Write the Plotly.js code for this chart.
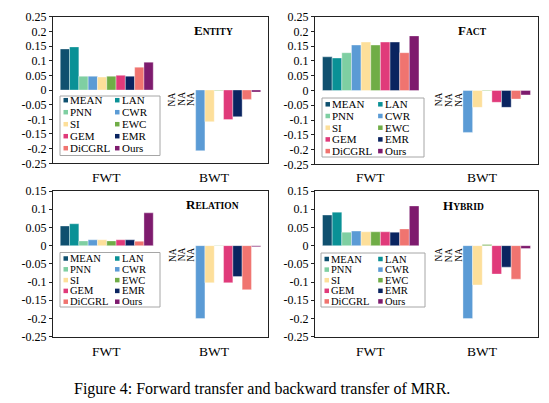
<!DOCTYPE html>
<html>
<head>
<meta charset="utf-8">
<script src="https://cdn.plot.ly/plotly-3.0.1.min.js"></script>
<style>
  body { margin: 0; background: #fff; }
  #chart { width: 549px; height: 403px; }
</style>
</head>
<body>
<div id="chart"></div>
<script>
// methods and their colours
var methods = ['MEAN', 'LAN', 'PNN', 'CWR', 'SI', 'EWC', 'GEM', 'EMR', 'DiCGRL', 'Ours'];
var colors = ['#0f506f', '#0a9196', '#7fcfa2', '#5b9bd5', '#fddf9a', '#70ad47', '#e03a7a', '#0a2460', '#f07470', '#7e1b6e'];
var metrics = ['FWT', 'BWT'];

// values (null = NA)
var entityFWT   = [0.140, 0.147, 0.047, 0.047, 0.044, 0.047, 0.050, 0.047, 0.078, 0.095];
var entityBWT   = [null, null, null, -0.207, -0.108, -0.002, -0.101, -0.091, -0.032, -0.007];
var factFWT     = [0.114, 0.110, 0.128, 0.154, 0.164, 0.154, 0.164, 0.164, 0.128, 0.185];
var factBWT     = [null, null, null, -0.142, -0.057, 0.002, -0.040, -0.057, -0.029, -0.015];
var relationFWT = [0.054, 0.060, 0.013, 0.016, 0.016, 0.013, 0.016, 0.016, 0.012, 0.090];
var relationBWT = [null, null, null, -0.200, -0.102, -0.001, -0.102, -0.085, -0.121, -0.003];
var hybridFWT   = [0.084, 0.092, 0.037, 0.040, 0.038, 0.038, 0.038, 0.037, 0.046, 0.109];
var hybridBWT   = [null, null, null, -0.200, -0.108, 0.003, -0.078, -0.059, -0.092, -0.008];

var topTicks = [0.25, 0.2, 0.15, 0.1, 0.05, 0, -0.05, -0.1, -0.15, -0.2, -0.25];
var topTickText = ['0.25', '0.2', '0.15', '0.1', '0.05', '0', '-0.05', '-0.1', '-0.15', '-0.2', '-0.25'];
var botTicks = [0.15, 0.1, 0.05, 0, -0.05, -0.1, -0.15, -0.2, -0.25];
var botTickText = ['0.15', '0.1', '0.05', '0', '-0.05', '-0.1', '-0.15', '-0.2', '-0.25'];

var W = 549, H = 403;
function px(x) { return x / W; }
function py(y) { return 1 - y / H; }

// panel placement in pixels
var panels = [
  {head: 'E', tail: 'NTITY', fwt: entityFWT, bwt: entityBWT, ticks: topTicks, tickText: topTickText,
   box: [53, 16.7, 268, 163.3], title: [213, 30], catY: 177, legend: [60, 96, 160, 155.5], row0: 100.2, rowStep: 12},
  {head: 'F', tail: 'ACT', fwt: factFWT, bwt: factBWT, ticks: topTicks, tickText: topTickText,
   box: [315, 16.7, 538, 164.3], title: [472, 31], catY: 177, legend: [322, 98, 424, 157], row0: 104.3, rowStep: 11.7},
  {head: 'R', tail: 'ELATION', fwt: relationFWT, bwt: relationBWT, ticks: botTicks, tickText: botTickText,
   box: [53, 191, 268, 336.7], title: [212, 204], catY: 351.5, legend: [60, 252.5, 160, 307], row0: 258.5, rowStep: 10.8},
  {head: 'H', tail: 'YBRID', fwt: hybridFWT, bwt: hybridBWT, ticks: botTicks, tickText: botTickText,
   box: [315, 191, 538, 336.7], title: [463, 205], catY: 351.5, legend: [321, 253, 425, 307], row0: 259, rowStep: 10.6}
];

var bargap = 0.135;
var serif = 'Liberation Serif, Times New Roman, serif';
var traces = [], annotations = [], shapes = [];
var layout = {
  width: W, height: H,
  margin: {l: 0, r: 0, t: 0, b: 0},
  paper_bgcolor: '#fff', plot_bgcolor: '#fff',
  barmode: 'group', bargap: bargap, bargroupgap: 0,
  showlegend: false,
  font: {family: serif, color: '#000'}
};

panels.forEach(function (p, k) {
  var n = k === 0 ? '' : String(k + 1);
  var xa = 'x' + n, ya = 'y' + n;
  var lw = p.legend[2] - p.legend[0];

  // legend frame first so the swatches sit on top of it
  shapes.push({
    type: 'rect', xref: 'paper', yref: 'paper',
    x0: px(p.legend[0]), x1: px(p.legend[2]), y0: py(p.legend[3]), y1: py(p.legend[1]),
    fillcolor: '#fff', line: {color: '#a6a6a6', width: 1}, layer: 'above'
  });

  methods.forEach(function (m, i) {
    traces.push({
      type: 'bar', name: m, x: metrics, y: [p.fwt[i], p.bwt[i]],
      xaxis: xa, yaxis: ya,
      marker: {color: colors[i], line: {color: 'rgba(255,255,255,0.6)', width: 0.6}},
      hoverinfo: 'name+y'
    });
    // NA labels where a method has no value
    if (p.bwt[i] === null) {
      var w = (1 - bargap) / methods.length;
      annotations.push({
        xref: xa, yref: ya, x: 1 - (1 - bargap) / 2 + (i + 0.5) * w, y: 0,
        text: 'NA', textangle: -90, showarrow: false,
        xanchor: 'center', yanchor: 'top',
        font: {family: serif, size: 9.5, color: '#000'}
      });
    }
    // hand-made legend, two columns
    var col = i % 2, row = Math.floor(i / 2);
    var lx = p.legend[0] + (col === 0 ? 3.5 : lw * 0.55);
    var ly = p.row0 + row * p.rowStep;
    shapes.push({
      type: 'rect', xref: 'paper', yref: 'paper',
      x0: px(lx), x1: px(lx + 4.5), y0: py(ly + 2.25), y1: py(ly - 2.25),
      fillcolor: colors[i], line: {width: 0}, layer: 'above'
    });
    annotations.push({
      xref: 'paper', yref: 'paper', x: px(lx + 4.5), y: py(ly),
      xanchor: 'left', yanchor: 'middle', showarrow: false, text: m,
      font: {family: serif, size: k < 2 ? 11 : 10.5, color: '#000'}
    });
  });

  annotations.push({
    xref: 'paper', yref: 'paper', x: px(p.title[0]), y: py(p.title[1]),
    xanchor: 'center', yanchor: 'middle', showarrow: false,
    text: '<b>' + p.head + '<span style="font-size:9.5px">' + p.tail + '</span></b>',
    font: {family: serif, size: 13, color: '#000'}
  });

  // category labels under each panel
  metrics.forEach(function (c) {
    annotations.push({
      xref: xa, yref: 'paper', x: c, y: py(p.catY),
      xanchor: 'center', yanchor: 'middle', showarrow: false, text: c,
      font: {family: serif, size: 13.5, color: '#000'}
    });
  });

  layout['xaxis' + n] = {
    domain: [px(p.box[0]), px(p.box[2])], anchor: ya,
    type: 'category', categoryarray: metrics,
    showline: true, linecolor: '#222', linewidth: 1, mirror: true,
    ticks: '', showticklabels: false, showgrid: false, zeroline: false
  };
  layout['yaxis' + n] = {
    domain: [py(p.box[3]), py(p.box[1])], anchor: xa,
    range: [p.ticks[p.ticks.length - 1], p.ticks[0]],
    tickmode: 'array', tickvals: p.ticks, ticktext: p.tickText,
    showline: true, linecolor: '#222', linewidth: 1, mirror: true,
    ticks: 'outside', ticklen: 3, tickcolor: '#222',
    showgrid: false, zeroline: false,
    tickfont: {family: serif, size: 12, color: '#000'}
  };
});

annotations.push({
  xref: 'paper', yref: 'paper', x: px(262), y: py(389),
  xanchor: 'center', yanchor: 'middle', showarrow: false,
  text: 'Figure 4: Forward transfer and backward transfer of MRR.',
  font: {family: serif, size: 16, color: '#000'}
});

layout.annotations = annotations;
layout.shapes = shapes;

Plotly.newPlot('chart', traces, layout, {displayModeBar: false, staticPlot: true});
</script>
</body>
</html>
